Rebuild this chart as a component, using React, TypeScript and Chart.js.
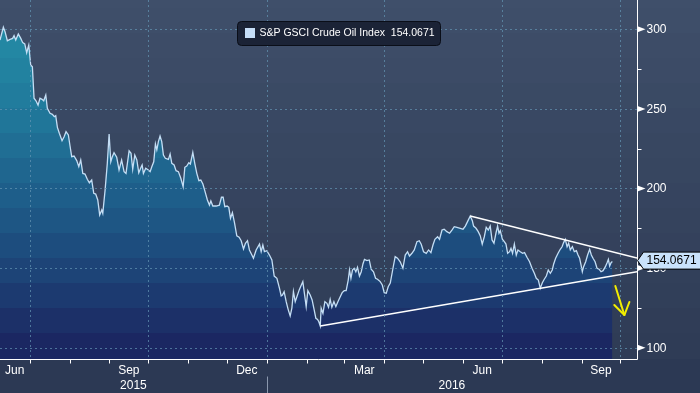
import React, { useEffect, useRef } from 'react';
import { Chart, registerables } from 'chart.js';
Chart.register(...registerables);

// Days counted from 2015-06-01
const days = [7.1, 9.7, 11.0, 12.8, 14.9, 16.9, 18.0, 19.3, 21.3, 23.2, 24.7, 26.3, 27.8, 29.4, 30.9, 32.2, 33.5, 35.0, 36.6, 38.1, 39.7, 41.0, 42.6, 43.8, 45.9, 47.7, 49.2, 50.3, 51.6, 53.1, 55.2, 56.8, 58.3, 60.1, 61.4, 62.7, 64.5, 66.6, 68.2, 69.7, 71.3, 73.0, 74.8, 76.4, 78.2, 79.8, 81.3, 82.9, 84.4, 86.0, 86.8, 88.6, 90.3, 91.7, 93.0, 94.2, 95.5, 97.6, 99.4, 101.4, 103.3, 104.8, 107.2, 108.7, 110.0, 111.6, 113.2, 114.7, 116.3, 117.3, 118.3, 120.1, 122.1, 123.5, 124.8, 126.3, 127.6, 128.7, 129.9, 131.2, 132.5, 133.8, 135.3, 137.7, 139.0, 140.3, 142.1, 143.6, 145.4, 147.3, 149.1, 150.4, 151.9, 153.5, 154.7, 156.6, 158.1, 159.7, 161.3, 162.8, 164.4, 166.1, 167.9, 169.5, 170.6, 172.1, 174.7, 177.2, 178.8, 180.1, 181.4, 183.2, 184.5, 185.8, 187.3, 188.9, 190.7, 192.5, 194.1, 195.9, 197.4, 199.0, 200.5, 202.4, 203.6, 205.7, 208.3, 209.6, 210.9, 212.1, 214.0, 216.0, 217.9, 219.7, 221.8, 223.8, 225.1, 226.1, 227.4, 229.0, 230.5, 232.1, 233.4, 234.6, 236.0, 237.3, 239.1, 240.4, 241.9, 243.2, 244.5, 245.8, 247.6, 249.1, 250.7, 252.0, 253.3, 254.3, 255.4, 256.1, 257.5, 259.0, 260.6, 261.8, 263.1, 264.4, 266.0, 267.5, 269.1, 270.9, 272.4, 274.0, 275.5, 277.1, 278.1, 279.2, 280.4, 281.7, 283.0, 284.3, 285.8, 287.2, 288.5, 289.7, 291.6, 293.4, 294.9, 296.7, 298.3, 299.8, 301.9, 303.5, 305.0, 306.6, 308.1, 309.7, 311.8, 313.5, 315.3, 317.4, 319.5, 321.3, 323.1, 324.6, 326.5, 328.3, 330.4, 332.2, 333.7, 335.5, 337.6, 339.4, 341.2, 342.8, 344.3, 346.4, 347.9, 349.8, 351.5, 353.6, 355.7, 357.5, 359.3, 361.4, 364.0, 366.1, 367.9, 369.6, 371.7, 373.3, 374.3, 376.2, 377.9, 379.5, 381.0, 382.6, 384.1, 385.7, 387.2, 388.6, 390.1, 391.7, 392.9, 394.0, 395.0, 396.6, 398.1, 399.4, 400.7, 402.2, 403.3, 404.5, 405.9, 407.4, 408.7, 410.5, 412.3, 413.8, 415.7, 417.7, 419.6, 421.4, 422.9, 424.5, 426.0, 427.6, 429.1, 430.7, 432.2, 433.8, 435.3, 436.4, 437.9, 439.8, 441.5, 442.9, 444.1, 445.4, 446.8, 448.0, 449.3, 450.9, 452.4, 454.0, 455.3, 456.5, 457.6, 458.6, 459.6, 461.2, 462.7, 464.3, 465.6, 466.9, 468.5, 470.0, 471.6, 473.1, 474.7, 476.5, 477.8, 478.8, 479.8, 480.9, 481.9];

const prices = [293.3, 301.3, 298.5, 292.8, 293.7, 294.3, 296.0, 293.3, 297.0, 294.3, 291.6, 290.8, 285.3, 290.1, 277.6, 276.5, 256.7, 255.1, 252.4, 256.7, 256.0, 255.1, 258.7, 250.4, 247.2, 246.6, 245.1, 245.7, 238.4, 234.7, 230.0, 232.5, 235.7, 233.6, 226.7, 220.0, 220.4, 217.5, 213.7, 217.9, 209.5, 209.1, 205.8, 203.6, 205.3, 197.0, 196.5, 192.8, 183.4, 186.5, 184.4, 199.1, 215.8, 234.2, 216.8, 220.0, 222.5, 219.6, 211.6, 217.9, 210.6, 209.5, 223.6, 222.1, 212.1, 221.0, 217.9, 209.9, 213.1, 214.8, 209.5, 212.7, 211.6, 210.6, 213.7, 216.8, 228.0, 224.2, 229.4, 233.0, 229.4, 221.0, 219.0, 218.3, 221.7, 215.8, 214.8, 211.2, 210.6, 206.4, 201.1, 213.3, 214.1, 216.2, 215.4, 222.7, 215.8, 209.5, 204.9, 205.3, 202.8, 198.0, 192.8, 189.6, 192.2, 189.0, 189.0, 189.5, 194.5, 194.5, 188.6, 189.0, 188.2, 181.3, 184.8, 178.5, 170.2, 169.4, 167.2, 162.0, 165.6, 167.2, 161.4, 158.2, 156.2, 161.4, 165.1, 160.3, 164.5, 160.3, 160.9, 158.2, 155.1, 145.0, 143.6, 137.3, 132.5, 133.1, 135.2, 128.9, 124.1, 119.9, 124.8, 135.2, 128.9, 132.0, 136.3, 138.8, 141.5, 133.7, 125.8, 135.8, 133.1, 130.0, 123.7, 118.5, 117.8, 116.3, 113.6, 124.8, 121.6, 128.9, 127.9, 125.4, 130.4, 125.4, 128.9, 125.8, 128.9, 132.0, 134.6, 135.8, 135.8, 142.5, 148.8, 143.6, 148.8, 149.9, 147.7, 150.5, 145.0, 147.7, 152.6, 155.5, 154.7, 155.1, 149.3, 147.7, 143.6, 143.0, 141.5, 139.4, 134.6, 134.2, 138.3, 140.6, 149.9, 157.2, 156.2, 154.0, 149.9, 158.2, 160.3, 157.6, 159.3, 161.4, 166.6, 167.2, 165.0, 160.3, 159.3, 161.4, 159.7, 164.5, 168.1, 169.7, 168.1, 173.9, 174.4, 172.9, 171.9, 173.9, 176.0, 175.6, 175.0, 174.4, 176.4, 179.2, 182.7, 179.8, 176.4, 175.0, 172.9, 170.2, 165.1, 169.7, 175.6, 173.9, 176.4, 167.7, 165.6, 172.2, 176.4, 171.9, 173.5, 168.1, 166.6, 165.1, 159.3, 160.3, 162.4, 159.3, 165.1, 158.2, 161.4, 160.3, 159.3, 159.7, 156.8, 154.0, 149.9, 146.7, 143.6, 142.5, 137.3, 140.8, 143.0, 145.0, 148.8, 146.7, 148.8, 152.6, 156.2, 159.3, 161.8, 163.4, 166.0, 168.1, 163.4, 165.6, 161.4, 163.4, 160.3, 160.9, 158.2, 156.2, 152.0, 147.7, 150.9, 154.0, 158.2, 161.8, 158.2, 156.2, 154.0, 149.9, 149.3, 147.7, 148.4, 150.9, 153.4, 155.5, 151.3, 153.4, 154.0671];

const seriesName = 'S&P GSCI Crude Oil Index';
const lastValue = 154.0671;

const upperTrendDays = [371.7, 501];
const upperTrendValues = [182.7, 156.4];
const lowerTrendDays = [255.4, 501];
const lowerTrendValues = [113.6, 147.7];

const arrowDays = [484.2, 491.2];
const arrowValues = [138.8, 120.5];
const arrowHeadDays = [483.4, 495.1];
const arrowHeadValues = [126.8, 128.7];

const monthStarts = [0, 30, 61, 92, 122, 153, 183, 214, 245, 274, 305, 335, 366, 396, 427, 458, 488];
const monthLabelNames = ['Jun', 'Sep', 'Dec', 'Mar', 'Jun', 'Sep'];
const monthLabelFrom = [0, 92, 183, 274, 366, 458];
const monthLabelTo = [30, 122, 214, 305, 396, 488];
const gridDays = [30, 122, 214, 305, 396, 488];
const yearLabels = ['2015', '2016'];
const yearBoundary = 214;
const yMajor = [100, 150, 200, 250, 300];
const yMinor = [125, 175, 225, 275];

const X_MIN = 7.1;
const X_MAX = 501;
const Y_MIN = 92.9;
const Y_MAX = 318.4;

const FONT = "'Liberation Sans', Arial, Helvetica, sans-serif";

const fillBandColors = ['#2590a9', '#248ca6', '#2387a3', '#2282a0', '#217c9d', '#207699', '#206e94', '#1f668f', '#1e5e8a', '#1e5684', '#1d4d7e', '#1d4477', '#1c3a70', '#1c3068', '#1b2762'];

function bandEdges(top: number, bottom: number) {
  const edges = [top];
  let y = top + 8;
  while (y < bottom - 2) { edges.push(y); y += 25; }
  edges.push(bottom);
  return edges;
}

function lerp(a: number, b: number, t: number) { return Math.round(a + (b - a) * t); }

const decoPlugin = {
  id: 'deco',
  beforeDraw(chart: any) {
    const { ctx, width, height, chartArea: a } = chart;
    ctx.save();
    const edges = bandEdges(0, a.bottom);
    const n = edges.length - 1;
    for (let i = 0; i < n; i++) {
      const t = i / (n - 1);
      ctx.fillStyle = `rgb(${lerp(63, 47, t)},${lerp(79, 60, t)},${lerp(106, 86, t)})`;
      ctx.fillRect(0, edges[i], width, edges[i + 1] - edges[i] + 0.5);
    }
    ctx.fillStyle = '#2c3954';
    ctx.fillRect(0, a.bottom, width, height - a.bottom);
    ctx.restore();
  },
  afterDatasetsDraw(chart: any) {
    const { ctx, chartArea: a, scales } = chart;
    const x = scales.x, y = scales.y;
    ctx.save();
    // grid
    ctx.strokeStyle = 'rgba(100,150,180,0.7)';
    ctx.lineWidth = 1;
    ctx.setLineDash([2, 3]);
    yMajor.forEach((v) => {
      const py = Math.round(y.getPixelForValue(v)) + 0.5;
      ctx.beginPath(); ctx.moveTo(a.left, py); ctx.lineTo(a.right, py); ctx.stroke();
    });
    gridDays.forEach((d) => {
      const px = Math.round(x.getPixelForValue(d)) + 0.5;
      ctx.beginPath(); ctx.moveTo(px, a.top); ctx.lineTo(px, a.bottom); ctx.stroke();
    });
    ctx.setLineDash([]);

    // axes
    ctx.strokeStyle = '#ffffff';
    ctx.lineWidth = 1;
    const rx = Math.round(a.right) + 0.5;
    const by = Math.round(a.bottom) + 0.5;
    ctx.beginPath(); ctx.moveTo(rx, a.top); ctx.lineTo(rx, by); ctx.stroke();
    ctx.beginPath(); ctx.moveTo(a.left, by); ctx.lineTo(rx, by); ctx.stroke();

    // x ticks
    monthStarts.forEach((d) => {
      if (d < X_MIN || d > X_MAX) return;
      const px = Math.round(x.getPixelForValue(d)) + 0.5;
      ctx.beginPath(); ctx.moveTo(px, by); ctx.lineTo(px, by + 4); ctx.stroke();
    });

    ctx.fillStyle = '#ffffff';
    ctx.font = `12px ${FONT}`;
    ctx.textAlign = 'center';
    ctx.textBaseline = 'middle';
    monthLabelNames.forEach((lab, i) => {
      const p0 = Math.max(a.left, x.getPixelForValue(monthLabelFrom[i]));
      const p1 = Math.min(a.right, x.getPixelForValue(monthLabelTo[i]));
      ctx.fillText(lab, (p0 + p1) / 2, by + 11);
    });
    const yb = x.getPixelForValue(yearBoundary);
    ctx.fillText(yearLabels[0], (a.left + yb) / 2, by + 26);
    ctx.fillText(yearLabels[1], (yb + a.right) / 2, by + 26);
    ctx.strokeStyle = '#8a97ad';
    const ybx = Math.round(yb) + 0.5;
    ctx.beginPath(); ctx.moveTo(ybx, by + 17); ctx.lineTo(ybx, chart.height); ctx.stroke();

    // y ticks
    ctx.strokeStyle = '#ffffff';
    ctx.textAlign = 'left';
    yMinor.forEach((v) => {
      const py = Math.round(y.getPixelForValue(v)) + 0.5;
      ctx.beginPath(); ctx.moveTo(rx, py); ctx.lineTo(rx + 4, py); ctx.stroke();
    });
    yMajor.forEach((v) => {
      const py = y.getPixelForValue(v);
      ctx.beginPath();
      ctx.moveTo(rx, py - 3); ctx.lineTo(rx + 8, py); ctx.lineTo(rx, py + 3); ctx.closePath();
      ctx.fill();
      ctx.fillText(String(v), rx + 9, py + 0.5);
    });

    // value box
    const vy = y.getPixelForValue(lastValue);
    ctx.beginPath();
    ctx.moveTo(rx, vy - 1);
    ctx.lineTo(rx + 6, vy - 9.5);
    ctx.lineTo(chart.width + 2, vy - 9.5);
    ctx.lineTo(chart.width + 2, vy + 7.5);
    ctx.lineTo(rx + 6, vy + 7.5);
    ctx.closePath();
    ctx.fillStyle = '#c9e2fb';
    ctx.fill();
    ctx.strokeStyle = '#000000';
    ctx.stroke();
    ctx.fillStyle = '#000000';
    ctx.fillText(lastValue.toFixed(4), rx + 9, vy - 0.5);

    // legend
    const lx = 237.5, ly = 21.5, lw = 203, lh = 24;
    ctx.beginPath();
    ctx.roundRect(lx, ly, lw, lh, 4);
    ctx.fillStyle = '#1b2336';
    ctx.fill();
    ctx.strokeStyle = '#0a0e18';
    ctx.stroke();
    ctx.fillStyle = '#c6def8';
    ctx.fillRect(245, 28, 10, 10);
    ctx.fillStyle = '#ffffff';
    ctx.font = `10.5px ${FONT}`;
    ctx.fillText(`${seriesName}  ${lastValue.toFixed(4)}`, 259.5, 33.5);

    // arrow
    ctx.strokeStyle = '#f2ee00';
    ctx.lineWidth = 2;
    ctx.lineCap = 'round';
    ctx.lineJoin = 'round';
    const ax0 = x.getPixelForValue(arrowDays[0]), ay0 = y.getPixelForValue(arrowValues[0]);
    const ax1 = x.getPixelForValue(arrowDays[1]), ay1 = y.getPixelForValue(arrowValues[1]);
    ctx.beginPath(); ctx.moveTo(ax0, ay0); ctx.lineTo(ax1, ay1); ctx.stroke();
    ctx.beginPath();
    ctx.moveTo(x.getPixelForValue(arrowHeadDays[0]), y.getPixelForValue(arrowHeadValues[0]));
    ctx.lineTo(ax1, ay1);
    ctx.lineTo(x.getPixelForValue(arrowHeadDays[1]), y.getPixelForValue(arrowHeadValues[1]));
    ctx.stroke();
    ctx.restore();
  },
};

export default function App() {
  const ref = useRef<HTMLCanvasElement>(null);
  useEffect(() => {
    document.body.style.margin = '0';
    const n = Math.min(days.length, prices.length);
    const priceData = [];
    for (let i = 0; i < n; i++) priceData.push({ x: days[i], y: prices[i] });
    const chart = new Chart(ref.current as HTMLCanvasElement, {
      type: 'line',
      data: {
        datasets: [
          {
            label: seriesName,
            data: priceData,
            order: 3,
            borderColor: '#c4def5',
            borderWidth: 1.3,
            pointRadius: 0,
            tension: 0,
            fill: 'start',
            backgroundColor: (c: any) => {
              const area = c.chart.chartArea;
              if (!area) return '#1e5e8a';
              const g = c.chart.ctx.createLinearGradient(0, area.top, 0, area.bottom);
              const edges = bandEdges(area.top, area.bottom);
              const h = area.bottom - area.top;
              for (let i = 0; i < edges.length - 1; i++) {
                const col = fillBandColors[Math.min(i, fillBandColors.length - 1)];
                g.addColorStop((edges[i] - area.top) / h, col);
                g.addColorStop(Math.min(1, (edges[i + 1] - area.top) / h), col);
              }
              return g;
            },
          },
          {
            label: 'upper',
            data: upperTrendDays.map((d, i) => ({ x: d, y: upperTrendValues[i] })),
            order: 1,
            borderColor: '#ffffff',
            borderWidth: 1.5,
            pointRadius: 0,
            fill: false,
          },
          {
            label: 'lower',
            data: lowerTrendDays.map((d, i) => ({ x: d, y: lowerTrendValues[i] })),
            order: 1,
            borderColor: '#ffffff',
            borderWidth: 1.5,
            pointRadius: 0,
            fill: false,
          },
        ],
      },
      options: {
        animation: false,
        responsive: false,
        devicePixelRatio: 1,
        layout: { padding: { left: 0, top: 0, right: 63, bottom: 34 } },
        plugins: { legend: { display: false }, tooltip: { enabled: false }, title: { display: false } },
        scales: {
          x: { type: 'linear', min: X_MIN, max: X_MAX, display: false },
          y: { type: 'linear', min: Y_MIN, max: Y_MAX, display: false },
        },
      },
      plugins: [decoPlugin],
    } as any);
    return () => chart.destroy();
  }, []);
  return (
    <div style={{ width: 700, height: 393 }}>
      <canvas ref={ref} width={700} height={393} style={{ display: 'block', width: 700, height: 393 }} />
    </div>
  );
}
